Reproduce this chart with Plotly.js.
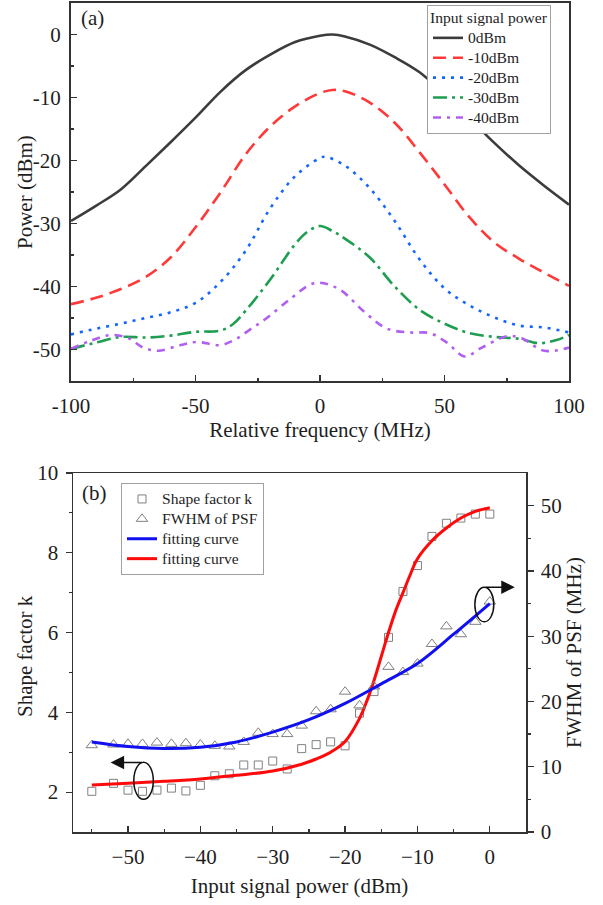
<!DOCTYPE html>
<html>
<head>
<meta charset="utf-8">
<script src="https://cdn.plot.ly/plotly-3.0.1.min.js"></script>
<style>html,body{margin:0;padding:0;background:#fff;}#chart{width:603px;height:905px;}</style>
</head>
<body>
<div id="chart"></div>
<script>
// ---------- Panel (a): spectra ----------
const x0dBm = [-100,-90,-80,-70,-60,-50,-40,-30,-20,-10,0,5,10,20,30,40,50,60,70,80,90,100];
const y0dBm = [-29.6,-27.2,-24.6,-20.9,-17.1,-13.2,-9.1,-5.7,-3.2,-1.2,-0.2,0,-0.3,-1.6,-3.6,-6.0,-9.5,-13.3,-17.2,-20.8,-24.0,-27.0];

const x10dBm = [-100,-90,-80,-70,-60,-50,-40,-30,-20,-10,0,5,10,20,30,40,50,60,70,80,90,100];
const y10dBm = [-42.8,-41.8,-40.4,-38.5,-35.4,-30.6,-25.1,-19.1,-14.6,-11.4,-9.3,-8.8,-9.0,-10.8,-14.0,-18.7,-23.8,-29.0,-33.0,-35.6,-37.8,-39.9];

const x20dBm = [-100,-90,-80,-70,-60,-50,-40,-30,-20,-10,0,2,10,20,30,40,50,60,70,80,90,100];
const y20dBm = [-47.6,-46.7,-45.9,-45.0,-44.1,-42.6,-39.3,-34.4,-27.6,-22.5,-19.6,-19.4,-20.8,-24.4,-29.6,-35.7,-40.3,-43.0,-44.9,-46.2,-46.5,-47.3];

const x30dBm = [-100,-90,-80,-70,-60,-50,-40,-35,-30,-20,-10,-5,0,5,10,20,30,40,50,60,70,80,88,95,100];
const y30dBm = [-49.9,-48.9,-48.0,-48.1,-47.8,-47.2,-47.0,-46.0,-43.9,-38.9,-33.3,-31.3,-30.4,-31.2,-32.4,-35.4,-40.0,-43.7,-45.9,-47.4,-48.0,-48.3,-49.0,-48.5,-47.7];

const x40dBm = [-100,-92,-84,-77,-71,-65,-56,-49.5,-40,-34,-28,-22,-12,-4,0,8,18,27,36,44,51,58,65,75,81,90,100];
const y40dBm = [-49.9,-48.6,-47.7,-48.2,-49.7,-50.2,-49.3,-48.8,-49.3,-48.4,-46.8,-45.2,-42.0,-39.7,-39.4,-40.5,-44.1,-46.7,-47.3,-47.4,-48.9,-51.1,-49.7,-47.9,-48.2,-50.2,-49.7];

const legendTitleA = 'Input signal power';
const seriesNamesA = ['0dBm','-10dBm','-20dBm','-30dBm','-40dBm'];
const xTickValsA = [-100,-50,0,50,100];
const xTickTextA = ['-100','-50','0','50','100'];
const yTickValsA = [-50,-40,-30,-20,-10,0];
const yTickTextA = ['-50','-40','-30','-20','-10','0'];
const yTitleA = 'Power (dBm)';

// ---------- Panel (b): shape factor & FWHM ----------
const inputPower = [-55,-52,-50,-48,-46,-44,-42,-40,-38,-36,-34,-32,-30,-28,-26,-24,-22,-20,-18,-16,-14,-12,-10,-8,-6,-4,-2,0];
const shapeFactor = [2.02,2.22,2.05,2.02,2.05,2.10,2.03,2.17,2.41,2.46,2.68,2.68,2.78,2.58,3.09,3.19,3.26,3.16,3.98,4.52,5.88,7.03,7.68,8.41,8.74,8.87,8.97,8.97];
const fwhm = [13.3,13.4,13.5,13.5,13.7,13.5,13.6,13.4,13.2,13.1,13.8,15.2,15.0,15.0,16.3,18.5,18.8,21.5,19.4,22.3,25.3,24.5,25.8,28.8,31.5,30.3,32.2,35.3];

const fitBlueX = [-55,-50,-45,-40,-35,-30,-25,-20,-15,-10,-5,0];
const fitBlueY = [13.8,13.1,12.8,13.0,13.8,15.3,17.2,19.7,22.7,25.8,30.3,35.0];
const fitRedX = [-55,-50,-45,-40,-35,-30,-26,-24,-22,-20,-18,-17,-16,-15,-14,-13,-12,-11,-10,-8,-6,-4,-2,0];
const fitRedY = [2.18,2.22,2.27,2.33,2.42,2.53,2.70,2.83,3.0,3.27,3.85,4.28,4.8,5.4,6.0,6.55,7.0,7.45,7.85,8.3,8.62,8.87,9.04,9.13];

const seriesNamesB = ['Shape factor k','FWHM of PSF','fitting curve','fitting curve'];
const yTitleB = 'Shape factor k';

// ---------- styles ----------
const FONT = 'Liberation Serif';
const big = s => '<span style="font-size:15.6px">' + s + '</span>';
const colorsA = ['#3c3c3c','#ff3838','#1566ff','#1e9e50','#b05ff0'];
const dashesA = ['solid','13px,7px','3px,6px','14px,5px,3px,5px','8px,6px,3px,6px'];
const xsA = [x0dBm,x10dBm,x20dBm,x30dBm,x40dBm];
const ysA = [y0dBm,y10dBm,y20dBm,y30dBm,y40dBm];

const traces = [];
for (let i = 0; i < 5; i++) {
  traces.push({
    x: xsA[i], y: ysA[i], name: big(seriesNamesA[i]), type: 'scatter', mode: 'lines',
    xaxis: 'x', yaxis: 'y', legend: 'legend',
    line: {color: colorsA[i], width: 2.6, dash: dashesA[i], shape: 'spline', smoothing: 1}
  });
}
traces.push({
  x: inputPower, y: shapeFactor, name: big(seriesNamesB[0]), type: 'scatter', mode: 'markers',
  xaxis: 'x2', yaxis: 'y2', legend: 'legend2',
  marker: {symbol: 'square-open', size: 8, color: '#808080', line: {width: 1, color: '#808080'}}
});
traces.push({
  x: inputPower, y: fwhm, name: big(seriesNamesB[1]), type: 'scatter', mode: 'markers',
  xaxis: 'x2', yaxis: 'y3', legend: 'legend2',
  marker: {symbol: 'triangle-up-open', size: 10, color: '#808080', line: {width: 1, color: '#808080'}}
});
traces.push({
  x: fitBlueX, y: fitBlueY, name: big(seriesNamesB[2]), type: 'scatter', mode: 'lines',
  xaxis: 'x2', yaxis: 'y3', legend: 'legend2',
  line: {color: '#1010f0', width: 3, shape: 'spline', smoothing: 1}
});
traces.push({
  x: fitRedX, y: fitRedY, name: big(seriesNamesB[3]), type: 'scatter', mode: 'lines',
  xaxis: 'x2', yaxis: 'y2', legend: 'legend2',
  line: {color: '#ff0a0a', width: 3, shape: 'spline', smoothing: 1}
});

const W = 603, H = 905;
const px = v => v / W;
const py = v => 1 - v / H;
const AX = '#333';
const tf = {family: FONT, size: 21, color: '#1e1e1e'};

const layout = {
  width: W, height: H,
  margin: {l: 0, r: 0, t: 0, b: 0},
  paper_bgcolor: '#fff', plot_bgcolor: '#fff',
  font: {family: FONT, size: 21, color: '#1e1e1e'},
  showlegend: true,
  xaxis: {
    domain: [px(71), px(569)], anchor: 'y', range: [-100, 100],
    tickmode: 'array', tickvals: xTickValsA, ticktext: xTickTextA, tickfont: tf,
    ticks: 'inside', ticklen: 6, tickwidth: 1.5, tickcolor: AX,
    minor: {tickvals: [-75,-25,25,75], ticks: 'inside', ticklen: 3, tickwidth: 1.5, tickcolor: AX},
    showline: true, linecolor: AX, linewidth: 2, mirror: true,
    showgrid: false, zeroline: false, ticklabelstandoff: 5,
    title: {text: 'Relative frequency (MHz)', standoff: 5, font: tf}
  },
  yaxis: {
    domain: [py(381), py(3)], anchor: 'x', range: [-55, 5],
    tickmode: 'array', tickvals: yTickValsA, ticktext: yTickTextA, tickfont: tf,
    ticks: 'inside', ticklen: 6, tickwidth: 1.5, tickcolor: AX,
    minor: {tickvals: [-45,-35,-25,-15,-5], ticks: 'inside', ticklen: 3, tickwidth: 1.5, tickcolor: AX},
    showline: true, linecolor: AX, linewidth: 2, mirror: true,
    showgrid: false, zeroline: false, ticklabelstandoff: 4
  },
  xaxis2: {
    domain: [px(73), px(526)], anchor: 'y2', range: [-57.6, 5],
    tickmode: 'array', tickvals: [-50,-40,-30,-20,-10,0], tickfont: tf,
    ticks: 'inside', ticklen: 6, tickwidth: 1.2, tickcolor: AX,
    minor: {tickvals: [-55,-45,-35,-25,-15,-5], ticks: 'inside', ticklen: 3, tickwidth: 1.2, tickcolor: AX},
    showline: true, linecolor: AX, linewidth: 1.5, mirror: true,
    showgrid: false, zeroline: false, ticklabelstandoff: 5,
    title: {text: 'Input signal power (dBm)', standoff: 10, font: tf}
  },
  yaxis2: {
    domain: [py(832), py(473)], anchor: 'x2', range: [1, 10],
    tickmode: 'array', tickvals: [2,4,6,8,10], tickfont: tf,
    ticks: 'outside', ticklen: 6, tickwidth: 1.2, tickcolor: AX,
    minor: {tickvals: [3,5,7,9], ticks: 'outside', ticklen: 3, tickwidth: 1.2, tickcolor: AX},
    showline: true, linecolor: AX, linewidth: 1.5,
    showgrid: false, zeroline: false, ticklabelstandoff: 3
  },
  yaxis3: {
    domain: [py(832), py(473)], anchor: 'x2', overlaying: 'y2', side: 'right', range: [0, 55],
    tickmode: 'array', tickvals: [0,10,20,30,40,50], tickfont: tf,
    ticks: 'outside', ticklen: 6, tickwidth: 1.2, tickcolor: AX,
    minor: {tickvals: [5,15,25,35,45], ticks: 'outside', ticklen: 3, tickwidth: 1.2, tickcolor: AX},
    showline: true, linecolor: AX, linewidth: 1.5,
    showgrid: false, zeroline: false, ticklabelstandoff: 3,
    title: {text: 'FWHM of PSF (MHz)', standoff: 5, font: tf}
  },
  legend: {
    x: px(427), y: py(5), xanchor: 'left', yanchor: 'top',
    bgcolor: '#fff', bordercolor: '#a0a0a0', borderwidth: 1,
    font: {family: FONT, size: 13, color: '#1e1e1e'},
    title: {text: big(legendTitleA), font: {family: FONT, size: 13, color: '#1e1e1e'}},
    tracegroupgap: 0, itemwidth: 30
  },
  legend2: {
    x: px(121), y: py(483), xanchor: 'left', yanchor: 'top',
    bgcolor: '#fff', bordercolor: '#a0a0a0', borderwidth: 1,
    font: {family: FONT, size: 13, color: '#1e1e1e'},
    tracegroupgap: 0, itemwidth: 30
  },
  shapes: [
    {type: 'circle', xref: 'x2', yref: 'y2', x0: -49.2, x1: -46.5, y0: 1.82, y1: 2.75,
     line: {color: '#111', width: 1.5}},
    {type: 'circle', xref: 'x2', yref: 'y3', x0: -2.07, x1: 0.55, y0: 32.2, y1: 37.5,
     line: {color: '#111', width: 1.5}}
  ],
  annotations: [
    {text: yTitleA, xref: 'paper', yref: 'paper', x: px(25), y: py(192), xanchor: 'center', yanchor: 'middle',
     textangle: -90, showarrow: false, font: tf},
    {text: yTitleB, xref: 'paper', yref: 'paper', x: px(25), y: py(656), xanchor: 'center', yanchor: 'middle',
     textangle: -90, showarrow: false, font: tf},
    {text: '(a)', xref: 'paper', yref: 'paper', x: px(79), y: py(18), xanchor: 'left', yanchor: 'middle',
     showarrow: false, font: tf},
    {text: '(b)', xref: 'paper', yref: 'paper', x: px(80), y: py(493), xanchor: 'left', yanchor: 'middle',
     showarrow: false, font: tf},
    {text: '', xref: 'x2', yref: 'y2', x: -52.4, y: 2.74, axref: 'x2', ayref: 'y2', ax: -47.85, ay: 2.74,
     showarrow: true, arrowhead: 2, arrowsize: 1.8, arrowwidth: 1.5, arrowcolor: '#111', standoff: 0},
    {text: '', xref: 'x2', yref: 'y3', x: 3.45, y: 37.5, axref: 'x2', ayref: 'y3', ax: -0.76, ay: 37.5,
     showarrow: true, arrowhead: 2, arrowsize: 1.8, arrowwidth: 1.5, arrowcolor: '#111', standoff: 0}
  ]
};

Plotly.newPlot('chart', traces, layout, {staticPlot: true, displayModeBar: false});
</script>
</body>
</html>
